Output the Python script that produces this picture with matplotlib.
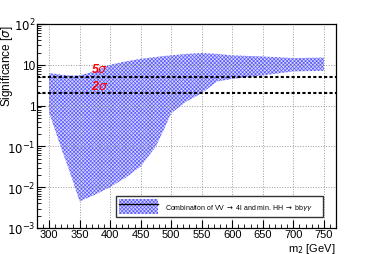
import numpy as np
import matplotlib
matplotlib.use("Agg")
import matplotlib.pyplot as plt
from matplotlib.patches import Patch
from matplotlib.lines import Line2D
from matplotlib.legend_handler import HandlerTuple
from matplotlib.ticker import FixedLocator, FuncFormatter, LogLocator, NullFormatter

plt.rcParams['font.family'] = ['Liberation Sans', 'DejaVu Sans']
plt.rcParams['hatch.linewidth'] = 0.45

# band of expected significance vs m2
mass = [300, 310, 320, 330, 340, 350, 375, 400, 425, 450, 475, 490, 500,
        525, 550, 575, 600, 650, 700, 750]
sig_high = [6.2, 6.0, 5.7, 5.5, 5.4, 5.5, 6.9, 10, 12, 14, 15.5, 16.5, 17,
            18.5, 19.4, 18.5, 17, 16, 14.6, 15]
sig_low = [0.7, 0.25, 0.09, 0.035, 0.013, 0.0045, 0.0065, 0.010, 0.017, 0.032,
           0.10, 0.3, 0.65, 1.26, 2.0, 3.9, 4.5, 5.5, 6.9, 7.1]

ref_levels = [5, 2]
ref_labels = ['5$\\sigma$', '2$\\sigma$']
x_ticks = [300, 350, 400, 450, 500, 550, 600, 650, 700, 750]
legend_text = 'Combination of VV $\\rightarrow$ 4l and min. HH $\\rightarrow$ bb$\\gamma\\gamma$'

band_face = '#d4d4ff'
band_col = '#5555ff'
band_hatch = 'xxxxxxxxx'

fig = plt.figure(figsize=(3.74, 2.55), dpi=100)
ax = fig.add_axes([0.099, 0.102, 0.799, 0.8])

ax.fill_between(mass, sig_low, sig_high, facecolor=band_face, edgecolor=band_col,
                hatch=band_hatch, linewidth=0)

for lvl, lab in zip(ref_levels, ref_labels):
    ax.axhline(lvl, color='black', lw=1.5, dashes=(1.5, 1.1))
    ax.text(383, lvl * 1.1, lab, color='red', fontsize=9, fontweight='bold',
            style='italic', ha='center', va='bottom')

ax.set_yscale('log')
ax.set_xlim(280.4, 769.6)
ax.set_ylim(1e-3, 1e2)

ax.xaxis.set_major_locator(FixedLocator(x_ticks))
ax.xaxis.set_minor_locator(FixedLocator(np.arange(290, 770, 10)))
ax.yaxis.set_major_locator(LogLocator(base=10, numticks=10))
ax.yaxis.set_minor_locator(LogLocator(base=10, subs=np.arange(2, 10), numticks=20))
ax.yaxis.set_minor_formatter(NullFormatter())


def ylab(v, pos):
    e = int(round(np.log10(v)))
    if e == 0:
        return '1'
    if e == 1:
        return '10'
    return '$10^{%d}$' % e


ax.yaxis.set_major_formatter(FuncFormatter(ylab))

ax.tick_params(which='both', direction='in', top=False, right=False, labelsize=8.5)
ax.tick_params(axis='x', labelsize=8)
ax.tick_params(which='major', length=6, width=0.8)
ax.tick_params(which='minor', length=3, width=0.6)
ax.tick_params(axis='x', pad=1)
ax.tick_params(axis='y', pad=1)

ax.grid(True, which='major', color='#999999', ls=':', lw=0.7)
for s in ax.spines.values():
    s.set_linewidth(0.9)

ax.set_ylabel('Significance [$\\sigma$]', fontsize=8.5)
ax.yaxis.set_label_coords(-0.074, 1.0)
ax.yaxis.label.set_ha('right')
ax.set_xlabel('m$_2$ [GeV]', fontsize=8)
ax.xaxis.set_label_coords(1.0, -0.064)
ax.xaxis.label.set_ha('right')
ax.xaxis.label.set_va('top')

h_patch = Patch(facecolor=band_face, edgecolor=band_col, hatch=band_hatch, linewidth=0)
h_line = Line2D([], [], color='black', lw=1.0)
leg = ax.legend([(h_patch, h_line)], [legend_text],
                handler_map={tuple: HandlerTuple(ndivide=1, pad=0)},
                bbox_to_anchor=(0.264, 0.034, 0.693, 0.142), loc='center left',
                mode='expand', fontsize=5, handlelength=5.6, handleheight=2.9,
                borderaxespad=0, borderpad=0.4, handletextpad=1.0,
                fancybox=False, framealpha=1, edgecolor='#333333')
leg.get_frame().set_linewidth(1.0)

fig.savefig('out.png', dpi=100)
